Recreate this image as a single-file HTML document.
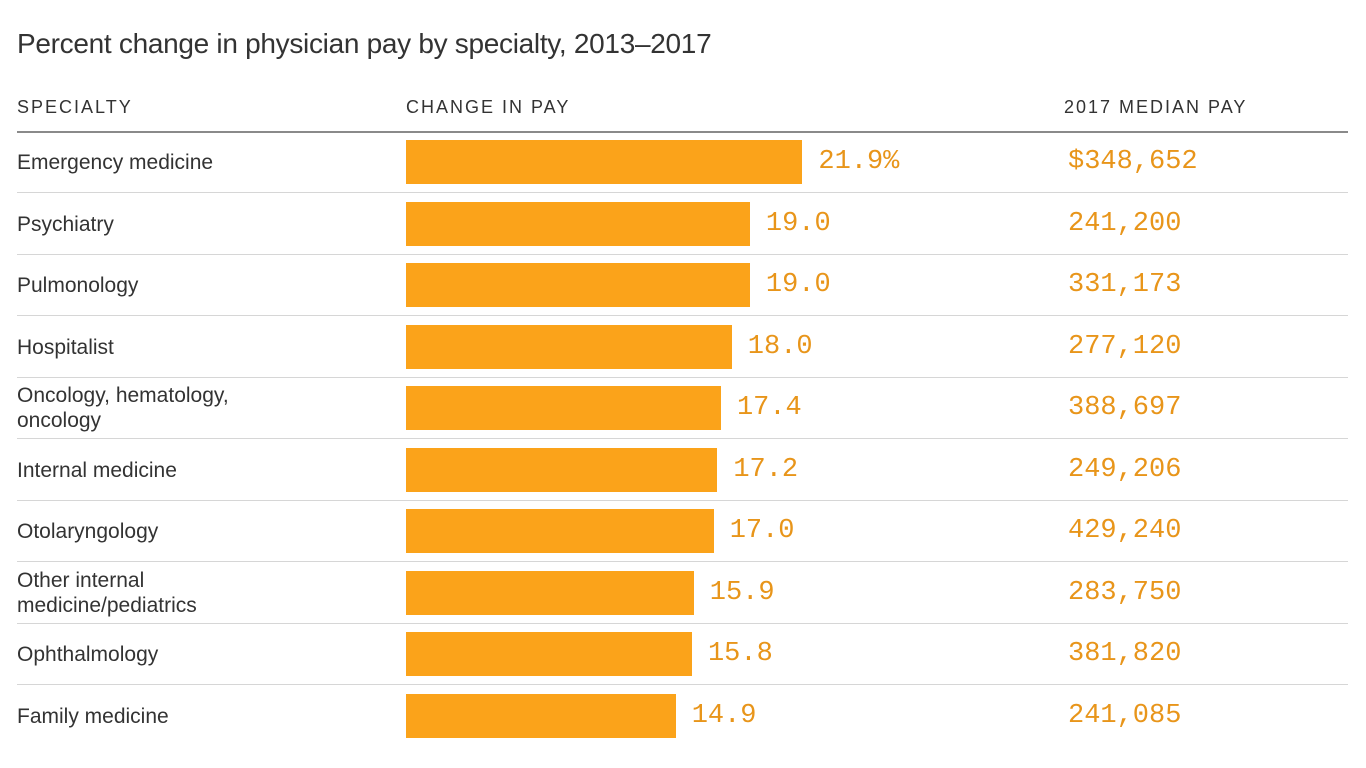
<!DOCTYPE html>
<html><head><meta charset="utf-8"><style>
body{margin:0;width:1366px;height:768px;background:#fff;position:relative;overflow:hidden;font-family:"Liberation Sans",sans-serif}
.a{position:absolute}
.t{left:17px;top:28px;font-size:28px;color:#333;letter-spacing:-0.3px}
.h{top:97px;font-size:18px;letter-spacing:2px;color:#333}
.lab{left:17px;font-size:21px;color:#333;line-height:25px}
.v{font-family:"Liberation Mono",monospace;font-size:27px;color:#e8951a;line-height:30px}
.bar{background:#fba31a;left:406px;height:44px}
.sep{left:17px;width:1331px;height:1px;background:#d6d6d6}
</style></head><body>
<div class="a t">Percent change in physician pay by specialty, 2013–2017</div>
<div class="a h" style="left:17px">SPECIALTY</div>
<div class="a h" style="left:406px">CHANGE IN PAY</div>
<div class="a h" style="left:1064px">2017 MEDIAN PAY</div>
<div class="a" style="left:17px;top:131px;width:1331px;height:2px;background:#8a8a8a"></div>
<div id="rows"></div>
<script>
const categories=["Emergency medicine","Psychiatry","Pulmonology","Hospitalist","Oncology, hematology,<br>oncology","Internal medicine","Otolaryngology","Other internal<br>medicine/pediatrics","Ophthalmology","Family medicine"];
const changes=[21.9,19.0,19.0,18.0,17.4,17.2,17.0,15.9,15.8,14.9];
const pays=["$348,652","241,200","331,173","277,120","388,697","249,206","429,240","283,750","381,820","241,085"];
const x0=406, scale=18.1, rowH=61.5, top0=132;
const root=document.getElementById('rows');
function add(cls,style,html){const d=document.createElement('div');d.className='a '+cls;d.style.cssText=style;if(html)d.innerHTML=html;root.appendChild(d);return d;}
categories.forEach((c,i)=>{
  const y=top0+i*rowH;
  const two=c.includes('<br>');
  const l=add('lab','top:'+(y+(two?5:18))+'px',c);
  
  
  const w=changes[i]*scale;
  const b=add('bar','top:'+(y+8)+'px;width:'+w+'px');
  
  
  const v=add('v','left:'+(x0+w+16)+'px;top:'+(y+15)+'px',changes[i].toFixed(1)+(i===0?'%':''));
  
  
  const p=add('v','left:1068px;top:'+(y+15)+'px',pays[i]);
  
  
  if(i<categories.length-1){const s=add('sep','top:'+Math.round(y+60)+'px');
  
  }
});
</script>
</body></html>
